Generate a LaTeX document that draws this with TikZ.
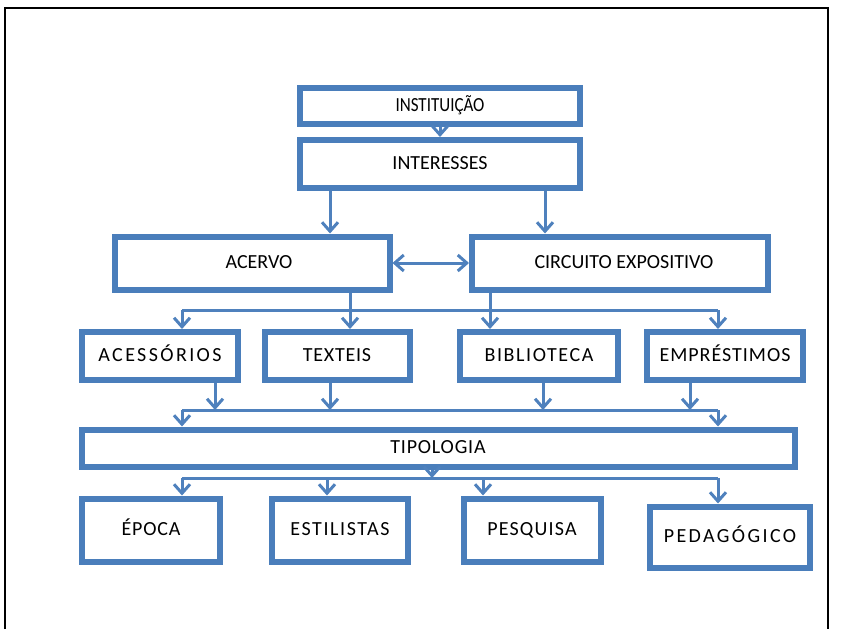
\documentclass[tikz,border=0pt]{standalone}
\usepackage{fontspec}
\usepackage{graphicx}
\setmainfont{Carlito}
\usetikzlibrary{arrows.meta}
\definecolor{boxblue}{RGB}{74,126,187}
\definecolor{linkblue}{RGB}{79,129,189}
\begin{document}
\begin{tikzpicture}[x=1pt,y=-1pt,
  box/.style={draw=boxblue, line width=6pt, fill=white, inner sep=0pt,
    text height=14pt, text depth=3pt,
    font=\fontsize{20}{24}\selectfont},
  track/.style={font=\fontsize{20}{24}\selectfont\addfontfeature{LetterSpace=#1}},
  link/.style={draw=linkblue, line width=3pt},
  tip/.style={},
  arr/.style={link, -{Straight Barb[length=9pt,width=16pt,line width=3pt]}},
  biarr/.style={link, {Straight Barb[length=9pt,width=16pt,line width=3pt]}-{Straight Barb[length=9pt,width=16pt,line width=3pt]}}]
\useasboundingbox (0,0) rectangle (842,629);
% page frame
\draw[black, line width=1.5pt] (5,629) -- (5,8) -- (828,8) -- (828,629);

% boxes
\node[box, minimum width=280pt, minimum height=36pt] (inst) at (440,106) {\scalebox{0.85}[1]{INSTITUIÇÃO}};
\node[box, minimum width=280pt, minimum height=48pt] (inter) at (440,164) {INTERESSES};
\node[box, minimum width=275pt, minimum height=53pt] (acervo) at (252,263) {\hspace{14pt}ACERVO};
\node[box, minimum width=296pt, minimum height=53pt] (circ) at (620,263) {\hspace{8pt}CIRCUITO EXPOSITIVO};
\node[box, track=12, minimum width=156pt, minimum height=48pt] (acess) at (160,356) {ACESSÓRIOS};
\node[box, track=4, minimum width=145pt, minimum height=48pt] (text) at (337,356) {TEXTEIS};
\node[box, track=8, minimum width=158pt, minimum height=48pt] (bibl) at (539,356) {BIBLIOTECA};
\node[box, track=5, minimum width=156pt, minimum height=48pt] (empr) at (725,356) {EMPRÉSTIMOS};
\node[box, track=4, minimum width=713pt, minimum height=37pt] (tipo) at (438,448) {TIPOLOGIA\hspace{10pt}};
\node[box, track=4, minimum width=138pt, minimum height=63pt] (epoca) at (151,530) {ÉPOCA};
\node[box, track=8, minimum width=136pt, minimum height=63pt] (estil) at (340,530) {ESTILISTAS};
\node[box, track=6, minimum width=137pt, minimum height=63pt] (pesq) at (532,530) {PESQUISA};
\node[box, track=12, minimum width=160pt, minimum height=61pt] (pedag) at (730,537) {PEDAGÓGICO};

% branch positions and bus lines
\coordinate (xA) at (330,0);
\coordinate (xC) at (545,0);
\coordinate (xT) at (350,0);
\coordinate (xB) at (490,0);
\coordinate (busOneL) at (182,310);
\coordinate (busOneR) at (718,310);
\coordinate (busTwoL) at (182,410);
\coordinate (busTwoR) at (718,410);
\coordinate (busThreeL) at (182,478);
\coordinate (busThreeR) at (718,478);
\coordinate (x1) at (215,0);
\coordinate (x2) at (330,0);
\coordinate (x3) at (543,0);
\coordinate (x4) at (690,0);
\coordinate (xTipo) at (432,0);
\coordinate (y2) at (327,0);
\coordinate (y3) at (483,0);

% top levels
\draw[arr] (inst) -- (inter);
\draw[arr] (inter.south -| xA) -- (acervo.north -| xA);
\draw[arr] (inter.south -| xC) -- (circ.north -| xC);
\draw[biarr] (acervo.east) -- (circ.west);

% acervo / circuito to the third row
\draw[link] (busOneL) -- (busOneR);
\draw[arr] (acervo.south -| xT) -- (text.north -| xT);
\draw[arr] (circ.south -| xB) -- (bibl.north -| xB);
\draw[arr] (busOneL) -- (acess.north -| busOneL);
\draw[arr] (busOneR) -- (empr.north -| busOneR);

% third row to tipologia
\draw[arr] (acess.south -| x1) -- (busTwoL -| x1);
\draw[arr] (text.south -| x2) -- (busTwoL -| x2);
\draw[arr] (bibl.south -| x3) -- (busTwoL -| x3);
\draw[arr] (empr.south -| x4) -- (busTwoL -| x4);
\draw[link] (busTwoL) -- (busTwoR);
\draw[arr] (busTwoL) -- (tipo.north -| busTwoL);
\draw[arr] (busTwoR) -- (tipo.north -| busTwoR);

% tipologia to the bottom row
\draw[arr] (tipo.south -| xTipo) -- (busThreeL -| xTipo);
\draw[link] (busThreeL) -- (busThreeR);
\draw[arr] (busThreeL) -- (epoca.north -| busThreeL);
\draw[arr] (busThreeL -| y2) -- (estil.north -| y2);
\draw[arr] (busThreeL -| y3) -- (pesq.north -| y3);
\draw[arr] (busThreeR) -- (pedag.north -| busThreeR);
\end{tikzpicture}
\end{document}
